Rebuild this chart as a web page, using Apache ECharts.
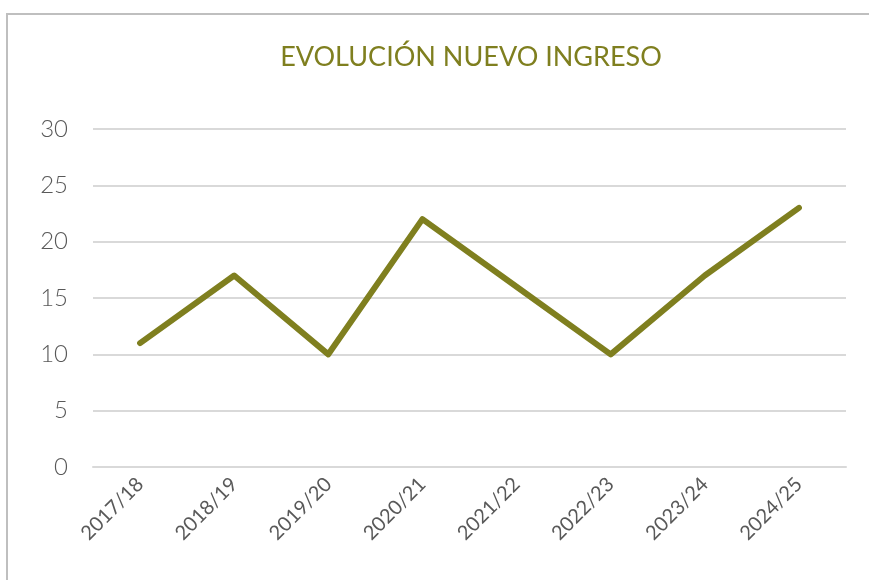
<!DOCTYPE html>
<html>
<head>
<meta charset="utf-8">
<script src="https://cdn.jsdelivr.net/npm/echarts@6/dist/echarts.min.js"></script>
<style>
  html, body { margin: 0; padding: 0; background: #fff; }
  #chart { width: 869px; height: 580px; }
</style>
</head>
<body>
<div id="chart"></div>
<script>
// datos
const cursos = ['2017/18', '2018/19', '2019/20', '2020/21', '2021/22', '2022/23', '2023/24', '2024/25'];
const nuevoIngreso = [11, 17, 10, 22, 16, 10, 17, 23];

const olive = '#7f7f1f';
const textGray = '#595959';

const myChart = echarts.init(document.getElementById('chart'));

myChart.setOption({
    textStyle: { fontFamily: 'Lato, "Open Sans", sans-serif' },
    graphic: [{
        type: 'rect',
        shape: { x: 7, y: 14, width: 880, height: 600 },
        style: { fill: 'none', stroke: '#bfbfbf', lineWidth: 2 },
        silent: true
    }],
    title: {
        text: 'EVOLUCIÓN NUEVO INGRESO',
        left: 466,
        top: 39,
        textAlign: 'center',
        textStyle: {
            color: olive,
            fontSize: 27,
            fontWeight: 'normal',
            fontFamily: 'Lato, "Open Sans", sans-serif'
        }
    },
    grid: {
        left: 93,
        right: 23,
        top: 129,
        bottom: 113
    },
    xAxis: {
        type: 'category',
        data: cursos,
        boundaryGap: true,
        axisLine: { lineStyle: { color: '#d9d9d9', width: 2 } },
        axisTick: { show: false },
        axisLabel: {
            rotate: 45,
            color: textGray,
            fontSize: 20,
            fontWeight: 'normal',
            margin: 14
        }
    },
    yAxis: {
        type: 'value',
        min: 0,
        max: 30,
        interval: 5,
        axisLine: { show: false },
        axisTick: { show: false },
        splitLine: { lineStyle: { color: '#d9d9d9', width: 2 } },
        axisLabel: {
            color: textGray,
            fontSize: 24,
            fontWeight: 300,
            margin: 25
        }
    },
    series: [{
        name: 'Nuevo ingreso',
        type: 'line',
        data: nuevoIngreso,
        symbol: 'none',
        lineStyle: { color: olive, width: 6, join: 'round', cap: 'round' },
        itemStyle: { color: olive }
    }]
});
</script>
</body>
</html>
